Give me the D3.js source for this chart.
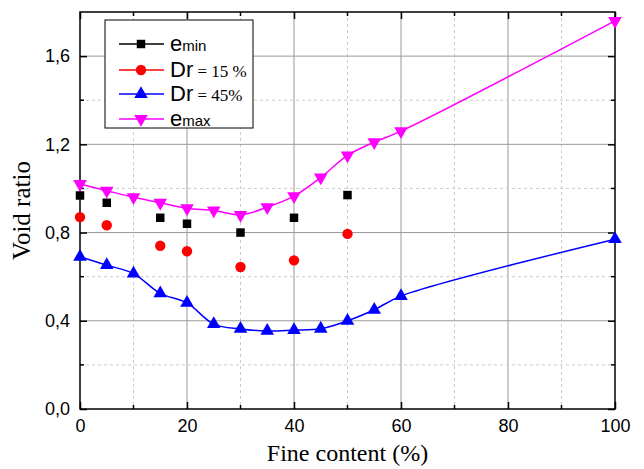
<!DOCTYPE html>
<html><head><meta charset="utf-8">
<script src="https://cdn.jsdelivr.net/npm/d3@7"></script>
<style>body{margin:0;background:#fff}</style>
</head><body>
<script>
// Void ratio versus fine content
const fcEmax = [0,5,10,15,20,25,30,35,40,45,50,55,60,100];
const emax   = [1.02,0.99,0.96,0.935,0.91,0.90,0.88,0.915,0.965,1.05,1.15,1.21,1.26,1.76];
const fcEmin = [0,5,15,20,30,40,50];
const emin   = [0.968,0.935,0.867,0.84,0.80,0.867,0.97];
const fcDr15 = [0,5,15,20,30,40,50];
const dr15   = [0.87,0.833,0.74,0.715,0.644,0.674,0.794];
const fcDr45 = [0,5,10,15,20,25,30,35,40,45,50,55,60,100];
const dr45   = [0.69,0.652,0.614,0.524,0.481,0.385,0.363,0.354,0.358,0.364,0.40,0.45,0.512,0.77];
const xTicks = [0,20,40,60,80,100];
const yTicks = [0,0.4,0.8,1.2,1.6];

const W=644,H=469, L=80,R=615,T=12,B=409;
const svg=d3.select("body").append("svg").attr("width",W).attr("height",H);
const x=d3.scaleLinear().domain([0,100]).range([L,R]);
const y=d3.scaleLinear().domain([0,1.8]).range([B,T]);

// grid
const g=svg.append("g");
d3.range(10,100,10).forEach(v=>{
  const major=v%20===0;
  g.append("line").attr("x1",x(v)).attr("x2",x(v)).attr("y1",T).attr("y2",B)
   .attr("stroke",major?"#999":"#ccc").attr("stroke-width",1)
   .attr("stroke-dasharray",major?null:"3,3");
});
[0.2,0.4,0.6,0.8,1.0,1.2,1.4,1.6].forEach(v=>{
  const major=Math.round(v*10)%4===0;
  g.append("line").attr("x1",L).attr("x2",R).attr("y1",y(v)).attr("y2",y(v))
   .attr("stroke",major?"#999":"#ccc").attr("stroke-width",1)
   .attr("stroke-dasharray",major?null:"3,3");
});

// axes
const fmt=d=>d3.format(".1f")(d).replace(".",",");
const ax=[
  {a:d3.axisBottom(x).tickValues(xTicks).tickFormat(d3.format("d")),t:`translate(0,${B})`},
  {a:d3.axisTop(x).tickValues(xTicks).tickFormat(""),t:`translate(0,${T})`},
  {a:d3.axisLeft(y).tickValues(yTicks).tickFormat(fmt),t:`translate(${L},0)`},
  {a:d3.axisRight(y).tickValues(yTicks).tickFormat(""),t:`translate(${R},0)`}
];
ax.forEach(o=>{
  const s=svg.append("g").attr("transform",o.t).call(o.a.tickSizeInner(-7).tickSizeOuter(0).tickPadding(10));
  s.select(".domain").remove();
  s.selectAll("line").attr("stroke","#000").attr("stroke-width",1.5);
  s.selectAll("text").attr("font-family","Arial, Liberation Sans").attr("font-size",18).attr("fill","#000");
});
// minor ticks
const mt=svg.append("g").attr("stroke","#000").attr("stroke-width",1.5);
d3.range(10,100,20).forEach(v=>{
  mt.append("line").attr("x1",x(v)).attr("x2",x(v)).attr("y1",B).attr("y2",B-4);
  mt.append("line").attr("x1",x(v)).attr("x2",x(v)).attr("y1",T).attr("y2",T+4);
});
[0.2,0.6,1.0,1.4].forEach(v=>{
  mt.append("line").attr("x1",L).attr("x2",L+4).attr("y1",y(v)).attr("y2",y(v));
  mt.append("line").attr("x1",R).attr("x2",R-4).attr("y1",y(v)).attr("y2",y(v));
});
svg.append("rect").attr("x",L).attr("y",T).attr("width",R-L).attr("height",B-T)
  .attr("fill","none").attr("stroke","#000").attr("stroke-width",1.5);

// titles
svg.append("text").attr("x",(L+R)/2).attr("y",461).attr("text-anchor","middle")
  .attr("font-family","Times New Roman, Liberation Serif").attr("font-size",24).text("Fine content (%)");
svg.append("text").attr("transform",`translate(30,${(T+B)/2}) rotate(-90)`).attr("text-anchor","middle")
  .attr("font-family","Times New Roman, Liberation Serif").attr("font-size",25).text("Void ratio");

// markers
const sym={
  sq:d3.symbol().type(d3.symbolSquare).size(72),
  ci:d3.symbol().type(d3.symbolCircle).size(85),
  up:d3.symbol().type(d3.symbolTriangle).size(80),
  dn:d3.symbol().type(d3.symbolTriangle).size(80)
};
function markers(xs,ys,s,col){
  const rot=s==="dn"?" rotate(180)":"";
  svg.append("g").selectAll("path").data(xs).join("path")
    .attr("d",sym[s]()).attr("fill",col)
    .attr("transform",(d,i)=>`translate(${x(d)},${y(ys[i])})${rot}`);
}
const line=d3.line().x(d=>x(d[0])).y(d=>y(d[1])).curve(d3.curveCatmullRom.alpha(0.5));
svg.append("path").attr("d",line(fcDr45.map((d,i)=>[d,dr45[i]]))).attr("fill","none").attr("stroke","#0000ff").attr("stroke-width",1.5);
svg.append("path").attr("d",line(fcEmax.map((d,i)=>[d,emax[i]]))).attr("fill","none").attr("stroke","#ff00ff").attr("stroke-width",1.5);
markers(fcEmin,emin,"sq","#000");
markers(fcDr15,dr15,"ci","#ff0000");
markers(fcDr45,dr45,"up","#0000ff");
markers(fcEmax,emax,"dn","#ff00ff");

// legend
const lg=svg.append("g");
lg.append("rect").attr("x",105).attr("y",20).attr("width",148).attr("height",108)
  .attr("fill","#fff").attr("stroke","#000").attr("stroke-width",1);
const items=[
  {c:"#000",s:"sq",big:"e",small:"min",rest:""},
  {c:"#ff0000",s:"ci",big:"Dr",small:"",rest:" = 15 %"},
  {c:"#0000ff",s:"up",big:"Dr",small:"",rest:" = 45%"},
  {c:"#ff00ff",s:"dn",big:"e",small:"max",rest:""}
];
const rowY=[44,70,94,119];
items.forEach((it,i)=>{
  const yy=rowY[i];
  lg.append("line").attr("x1",119).attr("x2",164).attr("y1",yy).attr("y2",yy).attr("stroke",it.c).attr("stroke-width",1.5);
  lg.append("path").attr("d",sym[it.s]()).attr("fill",it.c)
    .attr("transform",`translate(141,${yy})${it.s==="dn"?" rotate(180)":""}`);
  const t=lg.append("text").attr("x",170).attr("y",yy+7);
  t.append("tspan").attr("font-family","Arial, Liberation Sans").attr("font-size",22).text(it.big);
  if(it.small) t.append("tspan").attr("font-family","Arial, Liberation Sans").attr("font-size",15).text(it.small);
  if(it.rest) t.append("tspan").attr("font-family","Times New Roman, Liberation Serif").attr("font-size",17).text(it.rest);
});
</script>
</body></html>
